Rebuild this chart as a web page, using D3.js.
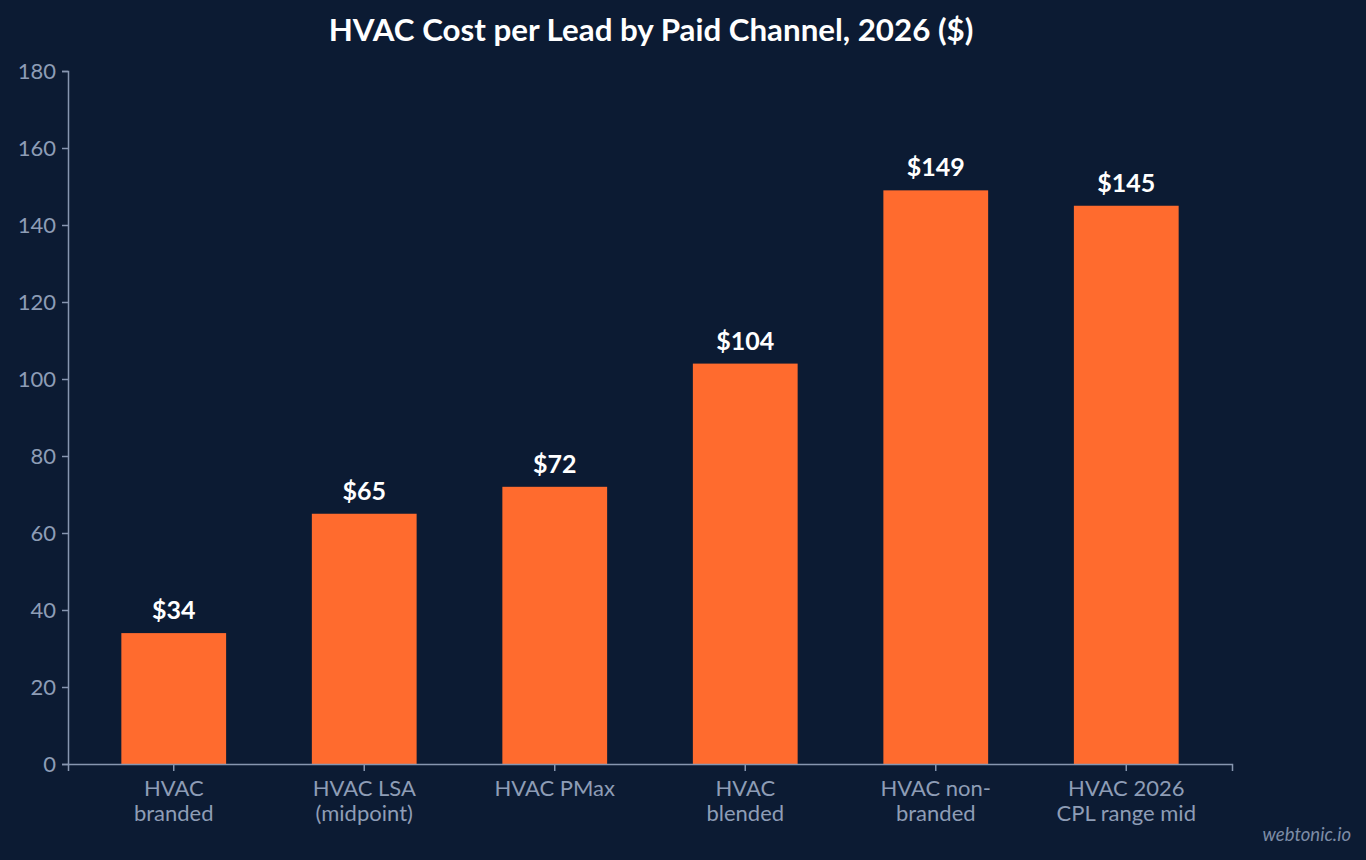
<!DOCTYPE html>
<html>
<head>
<meta charset="utf-8">
<script src="https://cdn.jsdelivr.net/npm/d3@7"></script>
<style>
  html, body { margin: 0; padding: 0; background: #0c1b33; }
  svg { display: block; font-family: Lato, "Open Sans", sans-serif; }
</style>
</head>
<body>
<svg id="chart" width="1366" height="860"></svg>
<script>
const categories = [
  ["HVAC", "branded"],
  ["HVAC LSA", "(midpoint)"],
  ["HVAC PMax"],
  ["HVAC", "blended"],
  ["HVAC non-", "branded"],
  ["HVAC 2026", "CPL range mid"]
];
const values = [34, 65, 72, 104, 149, 145];
const yTicks = [0, 20, 40, 60, 80, 100, 120, 140, 160, 180];

const width = 1366, height = 860;
const margin = { top: 71, right: 134, bottom: 96, left: 68 };
const axisColor = "#8796b0";
const labelColor = "#8e9db6";

const svg = d3.select("#chart");
svg.append("rect").attr("width", width).attr("height", height).attr("fill", "#0c1b33");

const x = d3.scaleBand()
  .domain(d3.range(categories.length))
  .range([margin.left, width - margin.right])
  .paddingInner(0.45)
  .paddingOuter(0.28);

const y = d3.scaleLinear()
  .domain([0, 180])
  .range([height - margin.bottom, margin.top]);

// title
svg.append("text")
  .attr("x", 651).attr("y", 41)
  .attr("text-anchor", "middle")
  .attr("fill", "#ffffff")
  .style("font-size", "31.3px").style("font-weight", "bold")
  .text("HVAC Cost per Lead by Paid Channel, 2026 ($)");

// bars
svg.selectAll("rect.bar")
  .data(values)
  .enter()
  .append("rect")
  .attr("class", "bar")
  .attr("x", (d, i) => x(i))
  .attr("y", d => y(d))
  .attr("width", x.bandwidth())
  .attr("height", d => y(0) - y(d))
  .attr("fill", "#ff6b2e");

// value labels
svg.selectAll("text.val")
  .data(values)
  .enter()
  .append("text")
  .attr("class", "val")
  .attr("x", (d, i) => x(i) + x.bandwidth() / 2)
  .attr("y", d => y(d) - 14)
  .attr("text-anchor", "middle")
  .attr("fill", "#ffffff")
  .style("font-size", "25px").style("font-weight", "bold")
  .text(d => "$" + d);

// y axis
const yAxis = svg.append("g")
  .attr("transform", `translate(${margin.left},0)`)
  .call(d3.axisLeft(y).tickValues(yTicks).tickSize(6).tickPadding(6));

// x axis
const xAxis = svg.append("g")
  .attr("transform", `translate(0,${y(0)})`)
  .call(d3.axisBottom(x).tickSize(7).tickFormat(""));

[yAxis, xAxis].forEach(g => {
  g.select(".domain").attr("stroke", axisColor).attr("stroke-width", 1.5);
  g.selectAll(".tick line").attr("stroke", axisColor).attr("stroke-width", 1.5);
  g.selectAll("text").attr("fill", labelColor).style("font-size", "22px").style("font-family", "Lato, sans-serif");
});

// multi-line category labels
xAxis.selectAll(".tick").each(function(d) {
  const t = d3.select(this).append("text")
    .attr("fill", labelColor)
    .attr("text-anchor", "middle")
    .style("font-size", "22px")
    .style("font-family", "Lato, sans-serif");
  categories[d].forEach((line, k) => {
    t.append("tspan").attr("x", 0).attr("y", 32 + k * 25).text(line);
  });
});

// watermark
svg.append("text")
  .attr("x", 1351).attr("y", 841)
  .attr("text-anchor", "end")
  .attr("fill", "#7d8ca6")
  .style("font-size", "18.5px").style("font-style", "italic")
  .text("webtonic.io");
</script>
</body>
</html>
